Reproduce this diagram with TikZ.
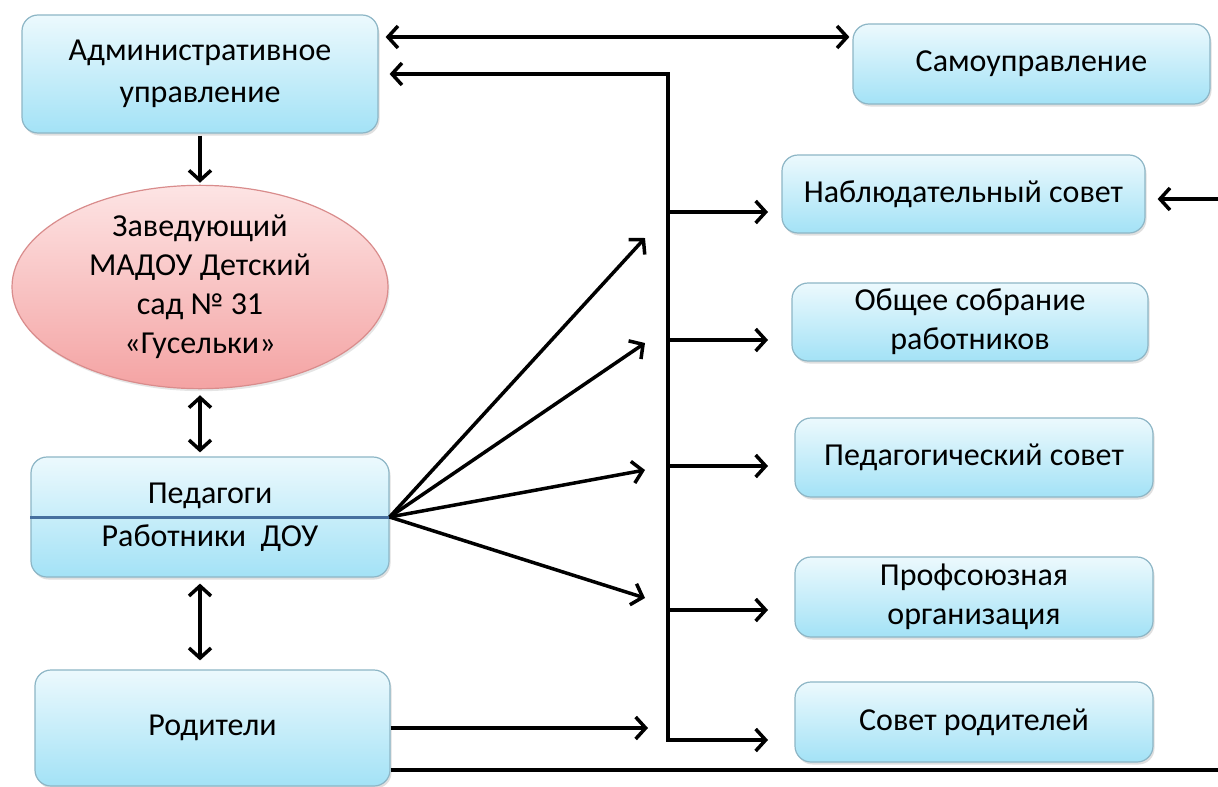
\documentclass[tikz,border=0pt]{standalone}
\usepackage{fontspec}
\setmainfont{Carlito}
\usetikzlibrary{arrows.meta,shapes.geometric,shadows}
\definecolor{boxtop}{HTML}{ECF9FD}
\definecolor{boxbot}{HTML}{A3E2F6}
\definecolor{boxline}{HTML}{8DB6C6}
\definecolor{elltop}{HTML}{FDE4E4}
\definecolor{ellbot}{HTML}{F4A3A3}
\definecolor{ellline}{HTML}{D98C8C}
\definecolor{divline}{HTML}{46709F}
\begin{document}
\begin{tikzpicture}[x=1pt,y=-1pt,
  txt/.style={font=\fontsize{32}{39}\selectfont, align=center},
  box/.style={txt, draw=boxline, line width=1.2pt, rounded corners=16pt,
    top color=boxtop, bottom color=boxbot, inner sep=0pt,
    drop shadow={opacity=0.25, shadow xshift=1.5pt, shadow yshift=-2.5pt}},
  ell/.style={txt, ellipse, draw=ellline, line width=1.2pt,
    top color=elltop, bottom color=ellbot, inner sep=0pt,
    minimum width=376pt, minimum height=184pt,
    drop shadow={opacity=0.2, shadow xshift=1.5pt, shadow yshift=-2.5pt}},
  ln/.style={line width=3.5pt, draw=black},
  arr/.style={ln, -{Straight Barb[length=10pt,width=22pt]}},
  darr/.style={ln, {Straight Barb[length=10pt,width=22pt]}-{Straight Barb[length=10pt,width=22pt]}}
]
\fill[white] (0,0) rectangle (1218,787);
\useasboundingbox (0,0) rectangle (1218,787);

% nodes
\node[box, minimum width=356pt, minimum height=118pt] (a) at (200,74) {Административное\\[3pt]управление};
\node[box, minimum width=357pt, minimum height=80pt] (s) at (1031.5,64) {Самоуправление};
\node[box, minimum width=363pt, minimum height=78pt] (n) at (963.5,194) {Наблюдательный совет};
\node[box, minimum width=356pt, minimum height=78pt] (o) at (970,322) {Общее собрание\\работников};
\node[box, minimum width=358pt, minimum height=79pt] (p) at (974,457.5) {Педагогический совет};
\node[box, minimum width=358pt, minimum height=80pt] (pr) at (974,597) {Профсоюзная\\организация};
\node[box, minimum width=358pt, minimum height=80pt] (sr) at (974,722) {Совет родителей};
\node[ell] (z) at (200,287) {Заведующий\\МАДОУ Детский\\сад № 31\\«Гусельки»};
\node[box, minimum width=358pt, minimum height=120pt] (w) at (210,517) {Педагоги\\[4pt]Работники~~ДОУ};
\draw[divline, line width=3pt] (w.west) -- (w.east);
\node[box, minimum width=355pt, minimum height=116pt] (r) at (212.5,728) {Родители};

% coordinates
\coordinate (t1) at ([yshift=37pt]a.east);
\coordinate (vtop) at (668,74);
\coordinate (vbot) at (668,740);
\coordinate (tip) at (768,0);
\coordinate (b1) at (668,212);
\coordinate (b2) at (668,340);
\coordinate (b3) at (668,466);
\coordinate (b4) at (668,610);
\coordinate (f1) at (645,238);
\coordinate (f2) at (645,343);
\coordinate (f3) at (645,470);
\coordinate (f4) at (645,598);
\coordinate (rt) at (648,728);
\coordinate (rb) at ([yshift=-42pt]r.east);
\coordinate (edge) at (1218,770);
\coordinate (ne) at (1218,199);

% connectors
\draw[darr, shorten <=7pt, shorten >=3pt] (t1) -- (t1 -| s.west);
\draw[darr, shorten <=11pt] (a.east) -- (vtop) -- (vbot) -- (vbot -| tip);
\draw[arr] (b1) -- (b1 -| tip);
\draw[arr] (b2) -- (b2 -| tip);
\draw[arr] (b3) -- (b3 -| tip);
\draw[arr] (b4) -- (b4 -| tip);
\draw[arr] (w.east) -- (f1);
\draw[arr] (w.east) -- (f2);
\draw[arr] (w.east) -- (f3);
\draw[arr] (w.east) -- (f4);
\draw[arr] (r.east) -- (rt);
\draw[ln] (rb) -- (edge);
\draw[arr, shorten >=12pt] (ne) -- (ne -| n.east);
\draw[arr, shorten <=2pt, shorten >=2pt] (a.south) -- (z.north);
\draw[darr, shorten <=6pt, shorten >=4pt] (z.south) -- (w.north -| z.south);
\draw[darr, shorten <=6pt, shorten >=9pt] (w.south -| z.south) -- (r.north -| z.south);
\end{tikzpicture}
\end{document}
